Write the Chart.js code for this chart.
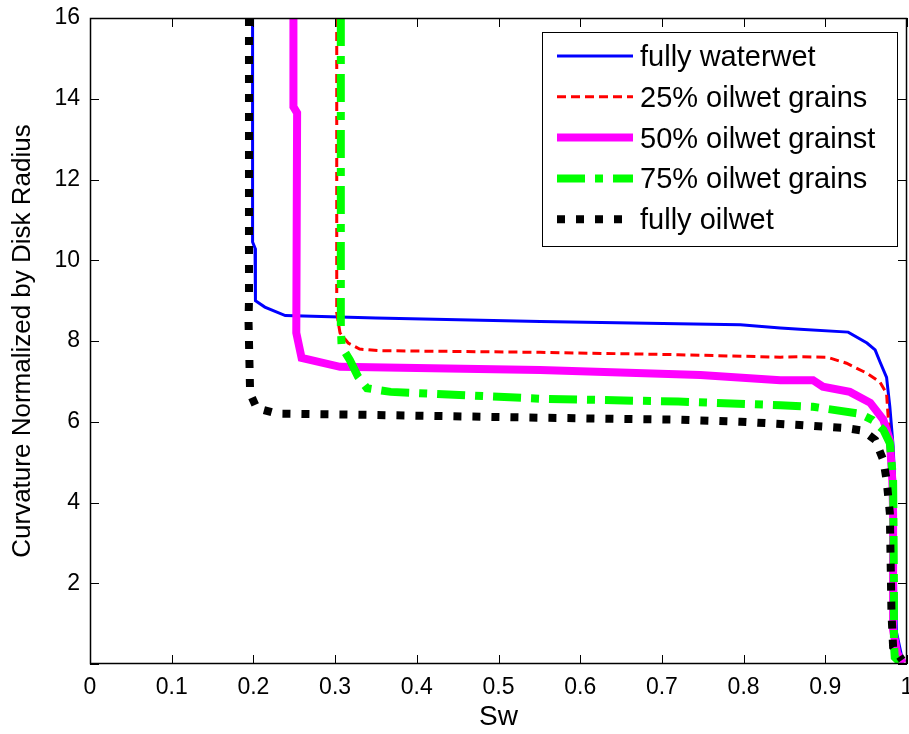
<!DOCTYPE html>
<html>
<head>
<meta charset="utf-8">
<title>Curvature vs Sw</title>
<script src="https://cdn.jsdelivr.net/npm/chart.js@4.4.1/dist/chart.umd.min.js"></script>
<style>
  html, body { margin: 0; padding: 0; background: #fff; }
  #chart { display: block; }
</style>
</head>
<body>
<canvas id="chart" width="909" height="734"></canvas>
<script>
// series: Sw (x) and normalized curvature (y)
const waterwetSw = [0.199, 0.199, 0.202, 0.2025, 0.214, 0.239, 0.35, 0.551, 0.72, 0.796, 0.845, 0.869, 0.928, 0.951, 0.961, 0.967, 0.975, 0.979, 0.983, 0.985, 0.986, 0.987, 0.995];
const waterwetK  = [16, 10.45, 10.3, 9.0, 8.84, 8.63, 8.57, 8.48, 8.43, 8.40, 8.32, 8.29, 8.22, 7.95, 7.78, 7.48, 7.1, 6.37, 5.4, 4.5, 2.0, 0.8, 0.05];

const oil25Sw = [0.302, 0.302, 0.306, 0.316, 0.330, 0.355, 0.551, 0.72, 0.845, 0.869, 0.902, 0.926, 0.951, 0.967, 0.975, 0.977, 0.980, 0.983, 0.985, 0.988, 0.995];
const oil25K  = [16, 8.7, 8.2, 7.95, 7.8, 7.76, 7.72, 7.66, 7.6, 7.61, 7.6, 7.45, 7.2, 6.98, 6.7, 6.1, 5.3, 3.5, 1.0, 0.3, 0.03];

const oil50Sw = [0.249, 0.249, 0.2535, 0.2525, 0.259, 0.306, 0.551, 0.747, 0.845, 0.885, 0.897, 0.930, 0.955, 0.971, 0.979, 0.982, 0.983, 0.983, 0.988, 0.995];
const oil50K  = [16, 13.8, 13.65, 8.2, 7.58, 7.36, 7.28, 7.16, 7.03, 7.03, 6.87, 6.74, 6.47, 6.05, 5.55, 4.56, 3.74, 0.84, 0.27, 0.02];

const oil75Sw = [0.307, 0.307, 0.308, 0.318, 0.328, 0.339, 0.368, 0.551, 0.72, 0.845, 0.885, 0.942, 0.958, 0.971, 0.979, 0.983, 0.984, 0.984, 0.985, 0.991];
const oil75K  = [16, 8.35, 7.86, 7.53, 7.12, 6.83, 6.74, 6.57, 6.5, 6.41, 6.37, 6.2, 6.04, 5.8, 5.47, 4.56, 2.0, 0.5, 0.17, 0.05];

const oilwetSw = [0.1946, 0.1946, 0.194, 0.196, 0.204, 0.229, 0.343, 0.551, 0.72, 0.796, 0.869, 0.922, 0.946, 0.961, 0.971, 0.975, 0.979, 0.981, 0.983, 0.994];
const oilwetK  = [16, 9.0, 8.52, 6.7, 6.34, 6.2, 6.17, 6.1, 6.05, 6.0, 5.92, 5.85, 5.78, 5.55, 5.05, 4.56, 3.74, 1.26, 0.42, 0.1];

const seriesLabels = ['fully waterwet', '25% oilwet grains', '50% oilwet grainst', '75% oilwet grains', 'fully oilwet'];
const xTicks = [0, 0.1, 0.2, 0.3, 0.4, 0.5, 0.6, 0.7, 0.8, 0.9, 1];
const yTicks = [0, 2, 4, 6, 8, 10, 12, 14, 16];

const FONT = '"Liberation Sans", Arial, Helvetica, sans-serif';

function pts(xs, ys) { return xs.map((x, i) => ({ x, y: ys[i] })); }

const styles = [
  { color: '#0000ff', width: 3, dash: [] },
  { color: '#ff0000', width: 3, dash: [9, 5] },
  { color: '#ff00ff', width: 8, dash: [] },
  { color: '#00ff00', width: 8, dash: [28, 10, 8, 10] },
  { color: '#000000', width: 8, dash: [8, 11] }
];
const seriesData = [
  pts(waterwetSw, waterwetK),
  pts(oil25Sw, oil25K),
  pts(oil50Sw, oil50K),
  pts(oil75Sw, oil75K),
  pts(oilwetSw, oilwetK)
];

const datasets = seriesData.map((d, i) => ({
  label: seriesLabels[i],
  data: d,
  showLine: true,
  borderColor: styles[i].color,
  backgroundColor: styles[i].color,
  borderWidth: styles[i].width,
  borderDash: styles[i].dash,
  borderCapStyle: 'butt',
  borderJoinStyle: 'miter',
  pointRadius: 0,
  tension: 0,
  order: seriesLabels.length - i   // later series drawn on top, like the original
}));

// box, inward ticks on all four sides, and the boxed legend
const framePlugin = {
  id: 'frame',
  afterDatasetsDraw(chart) {
    const { ctx, chartArea: a, scales } = chart;
    const tl = 9;
    ctx.save();
    ctx.strokeStyle = '#000';
    ctx.lineWidth = 1;
    ctx.beginPath();
    xTicks.forEach(v => {
      const px = Math.round(scales.x.getPixelForValue(v)) + 0.5;
      ctx.moveTo(px, a.bottom); ctx.lineTo(px, a.bottom - tl);
      ctx.moveTo(px, a.top); ctx.lineTo(px, a.top + tl);
    });
    yTicks.forEach(v => {
      const py = Math.round(scales.y.getPixelForValue(v)) + 0.5;
      ctx.moveTo(a.left, py); ctx.lineTo(a.left + tl, py);
      ctx.moveTo(a.right, py); ctx.lineTo(a.right - tl, py);
    });
    ctx.stroke();
    ctx.lineWidth = 1.5;
    ctx.strokeRect(Math.round(a.left) + 0.5, Math.round(a.top) + 0.5,
                   Math.round(a.right - a.left) - 1, Math.round(a.bottom - a.top) - 1);

    // legend
    const lx = 542, ly = 32, lw = 355, lh = 214;
    ctx.lineWidth = 1;
    ctx.fillStyle = '#fff';
    ctx.fillRect(lx, ly, lw, lh);
    ctx.strokeRect(lx + 0.5, ly + 0.5, lw, lh);
    ctx.font = '29px ' + FONT;
    ctx.textBaseline = 'middle';
    chart.data.datasets.forEach((ds, i) => {
      const y = ly + 24 + i * 40.8;
      ctx.beginPath();
      ctx.strokeStyle = ds.borderColor;
      ctx.lineWidth = ds.borderWidth;
      ctx.setLineDash(ds.borderDash);
      ctx.lineCap = 'butt';
      ctx.moveTo(557, y); ctx.lineTo(633, y);
      ctx.stroke();
      ctx.setLineDash([]);
      ctx.fillStyle = '#000';
      ctx.fillText(ds.label, 640, y + 2);
    });
    ctx.restore();
  }
};

const config = {
  type: 'scatter',
  data: { datasets },
  options: {
    responsive: false,
    animation: false,
    layout: { padding: { top: 18, right: 2, left: 0, bottom: 0 } },
    plugins: { legend: { display: false }, tooltip: { enabled: false } },
    scales: {
      x: {
        type: 'linear', min: 0, max: 1,
        grid: { display: true, drawOnChartArea: false, drawTicks: false },
        border: { display: false },
        afterBuildTicks: s => { s.ticks = xTicks.map(v => ({ value: v })); },
        afterFit: s => { s.height = 70; s.paddingLeft = 0; s.paddingRight = 0; },
        ticks: {
          padding: 10, color: '#000', maxRotation: 0, autoSkip: false,
          font: { family: FONT, size: 23 },
          callback: v => String(v)
        },
        title: { display: true, text: 'Sw', color: '#000', font: { family: FONT, size: 28 }, padding: 0 }
      },
      y: {
        type: 'linear', min: 0, max: 16,
        grid: { display: true, drawOnChartArea: false, drawTicks: false },
        border: { display: false },
        afterBuildTicks: s => { s.ticks = yTicks.map(v => ({ value: v })); },
        afterFit: s => { s.width = 90; s.paddingTop = 0; s.paddingBottom = 0; },
        ticks: {
          padding: 10, color: '#000', autoSkip: false,
          font: { family: FONT, size: 23 },
          callback: v => (v === 0 ? '' : String(v))
        },
        title: { display: true, text: 'Curvature Normalized by Disk Radius', color: '#000', font: { family: FONT, size: 26 }, padding: 7 }
      }
    }
  },
  plugins: [framePlugin]
};

new Chart(document.getElementById('chart').getContext('2d'), config);
</script>
</body>
</html>
